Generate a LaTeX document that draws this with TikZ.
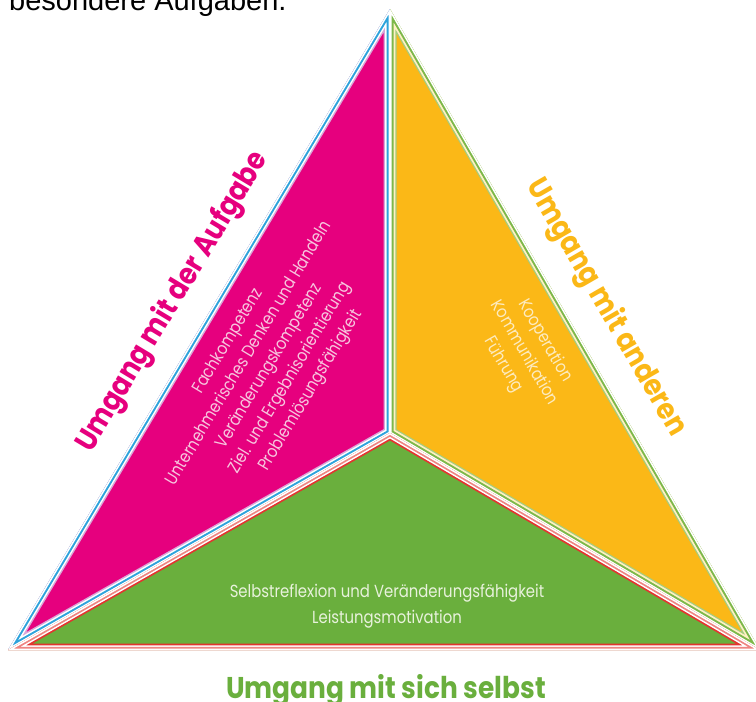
\documentclass[tikz,border=0pt]{standalone}
\usepackage{fontspec}
\setmainfont{Poppins}
\newfontfamily\titlefont{Poppins}[FakeStretch=0.88]
\newfontfamily\lightfont{Poppins}[FakeStretch=0.85]
\newfontfamily\arialfont{Liberation Sans}
\usepackage{xcolor}
\usepackage{tikz}
\usetikzlibrary{positioning, calc}

\definecolor{magentaFill}{HTML}{E6007E}
\definecolor{orangeFill}{HTML}{FBB817}
\definecolor{greenFill}{HTML}{6AAF3D}
\definecolor{lineBlue}{HTML}{2EA3DC}
\definecolor{lineLilac}{HTML}{D9A6D8}
\definecolor{lineGreen}{HTML}{7DB84A}
\definecolor{lineCream}{HTML}{FFF1C4}
\definecolor{lineRed}{HTML}{E3342F}
\definecolor{textPink}{HTML}{F7C6DE}
\definecolor{textCream}{HTML}{FDEBC0}
\definecolor{textPale}{HTML}{E8F2DC}

\begin{document}
\begin{tikzpicture}[x=1pt, y=-1pt, line join=miter,
    title/.style={font=\titlefont\bfseries\fontsize{30}{30}\selectfont, inner sep=0pt},
    items/.style={font=\lightfont\fontsize{17.5}{24}\selectfont, align=center, inner sep=0pt}]
  \clip (0,0) rectangle (756,702);
  \fill[white] (0,0) rectangle (756,702);
  % Text cut off at the top
  \node[anchor=base west, font=\arialfont\fontsize{29}{29}\selectfont, inner sep=0pt] (headLine) at (9,10) {besondere Aufgaben.};
  % Corners
  \coordinate (apex) at (390,9);
  \coordinate (left) at (8,650);
  \coordinate (right) at (760,650);
  \coordinate (mid) at (390,433);
  % Magenta part
  \begin{scope}
    \clip (apex) -- (mid) -- (left) -- cycle;
    \fill[magentaFill] (apex) -- (mid) -- (left) -- cycle;
    \draw[lineLilac, line width=13] (apex) -- (mid) -- (left) -- cycle;
    \draw[white, line width=10] (apex) -- (mid) -- (left) -- cycle;
    \draw[lineBlue, line width=7] (apex) -- (mid) -- (left) -- cycle;
    \draw[white, line width=3] (apex) -- (mid) -- (left) -- cycle;
  \end{scope}
  % Orange part
  \begin{scope}
    \clip (apex) -- (right) -- (mid) -- cycle;
    \fill[orangeFill] (apex) -- (right) -- (mid) -- cycle;
    \draw[lineGreen!70, line width=13] (apex) -- (right) -- (mid) -- cycle;
    \draw[lineCream, line width=10.5] (apex) -- (right) -- (mid) -- cycle;
    \draw[lineGreen, line width=7] (apex) -- (right) -- (mid) -- cycle;
    \draw[white, line width=3] (apex) -- (right) -- (mid) -- cycle;
  \end{scope}
  % Green part
  \begin{scope}
    \clip (mid) -- (right) -- (left) -- cycle;
    \fill[greenFill] (mid) -- (right) -- (left) -- cycle;
    \draw[lineRed, line width=13] (mid) -- (right) -- (left) -- cycle;
    \draw[white, line width=9.5] (mid) -- (right) -- (left) -- cycle;
    \draw[lineRed!60, line width=6.5] (mid) -- (right) -- (left) -- cycle;
    \draw[white, line width=3] (mid) -- (right) -- (left) -- cycle;
  \end{scope}
  % Titles
  \node[title, rotate=59, text=magentaFill] (taskTitle) at (173,302) {Umgang mit der Aufgabe};
  \node[title, rotate=-60, text=orangeFill] (othersTitle) at (606,308) {Umgang mit anderen};
  \node[title, text=greenFill, anchor=base] (selfTitle) at (386,698) {Umgang mit sich selbst};
  % Contents
  \node[items, rotate=59, text=textPink] (taskList) at (270,366)
    {Fachkompetenz\\Unternehmerisches Denken und Handeln\\Veränderungskompetenz\\Ziel. und Ergebnisorientierung\\Problemlösungsfähigkeit};
  \node[items, rotate=-60, text=textCream] (othersList) at (524,353)
    {Kooperation\\Kommunikation\\Führung};
  \node[items, text=textPale, font=\lightfont\fontsize{17.5}{26}\selectfont] (selfList) at (387,606)
    {Selbstreflexion und Veränderungsfähigkeit\\Leistungsmotivation};
\end{tikzpicture}
\end{document}
